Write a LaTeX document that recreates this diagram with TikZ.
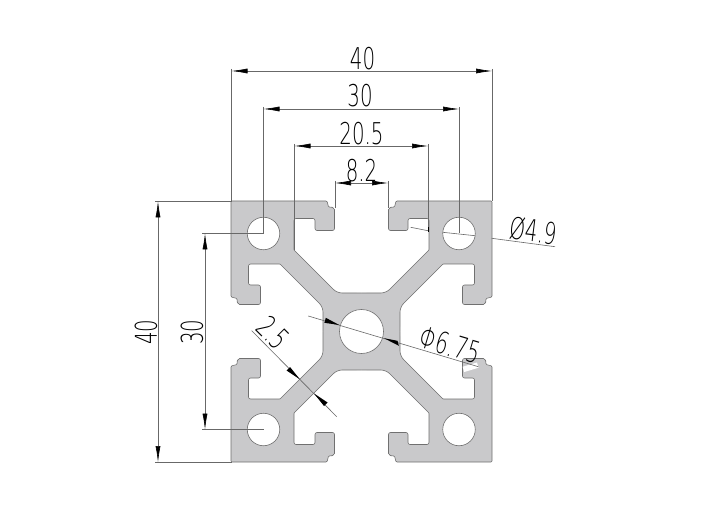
\documentclass[tikz,border=0pt]{standalone}
\usepackage{fontspec}
\newfontfamily\dimfont{DejaVu Sans ExtraLight}
\usetikzlibrary{arrows.meta}
\definecolor{alu}{HTML}{C9C9CB}
\definecolor{edge}{HTML}{707070}
\definecolor{leader}{HTML}{686868}
\def\QuadOutline{[rounded corners=5pt] (0,-38.5) -- (-24.5,-38.5) [rounded corners=0.5pt] -- (-67.5,-81.5) [rounded corners=2pt] -- (-67.5,-113) -- (-46.5,-113) -- (-46.5,-101) -- (-27,-101) -- (-27,-124) [rounded corners=1pt] -- (-33,-124.5) -- (-34.5,-130.5) -- (-130.5,-130.5) -- (-130.5,-34.5) -- (-124.5,-33) [rounded corners=2pt] -- (-124,-27) -- (-101,-27) -- (-101,-46.5) -- (-113,-46.5) -- (-113,-67.5) [rounded corners=0.5pt] -- (-81.5,-67.5) [rounded corners=5pt] -- (-38.5,-24.5) -- (-38.5,0)}
\tikzset{
  dimline/.style={draw=leader,line width=0.6pt,{Latex[length=16pt,width=5pt,black]}-{Latex[length=16pt,width=5pt,black]}},
  extline/.style={draw=leader,line width=0.6pt},
  solidhead/.style={fill=black,draw=none},
  holeshape/.style={draw=edge,fill=white,line width=0.6pt},
  dimtext/.style={font=\dimfont\fontsize{30}{30}\selectfont,text=black,inner sep=0pt,xscale=0.66}
}
\begin{document}
\begin{tikzpicture}[x=1pt,y=-1pt]
\useasboundingbox (0,0) rectangle (714,510);
\fill[white] (0,0) rectangle (714,510);
% profile
\foreach \sx/\sy in {1/1,-1/1,1/-1,-1/-1}{
  \begin{scope}[shift={(361.5,331.5)},xscale=\sx,yscale=\sy]
    \fill[alu] \QuadOutline -- (0,0) -- cycle;
  \end{scope}
}
\fill[alu] (323,293) rectangle (400,370);
\foreach \sx/\sy in {1/1,-1/1,1/-1,-1/-1}{
  \begin{scope}[shift={(361.5,331.5)},xscale=\sx,yscale=\sy]
    \draw[edge,line width=0.6pt] \QuadOutline;
  \end{scope}
}
\node[circle,holeshape,minimum size=44pt,inner sep=0pt] (core) at (361.5,331.5) {};
\node[circle,holeshape,minimum size=32.5pt,inner sep=0pt] (tl) at (263.5,233.5) {};
\node[circle,holeshape,minimum size=32.5pt,inner sep=0pt] (tr) at (459,233.5) {};
\node[circle,holeshape,minimum size=32.5pt,inner sep=0pt] (bl) at (263.5,429.5) {};
\node[circle,holeshape,minimum size=32.5pt,inner sep=0pt] (br) at (459,429.5) {};
% white patch
\fill[white,rotate around={16.6:(470.5,367)}] (463,364.5) rectangle (478,370);
% top dimensions
\coordinate (a1) at (231.5,71); \coordinate (a2) at (492,71);
\coordinate (a1e) at (231.5,201); \coordinate (a2e) at (492,201);
\draw[extline] (231.5,69) -- (a1e); \draw[extline] (492,69) -- (a2e);
\draw[dimline] (a1) -- (a2);
\node[dimtext] (t40) at (362.5,58.5) {40};
\coordinate (b1) at (263.5,109); \coordinate (b2) at (459,109);
\draw[extline] (263.5,107) -- (tl.center); \draw[extline] (459,107) -- (tr.center);
\draw[dimline] (b1) -- (b2);
\node[dimtext] (t30) at (360,96) {30};
\coordinate (c1) at (294.5,146); \coordinate (c2) at (428,146);
\draw[extline] (294.5,144) -- (294.5,250); \draw[extline] (428,144) -- (428,232);
\draw[dimline] (c1) -- (c2);
\node[dimtext] (t205) at (361.5,133.5) {20.5};
\coordinate (d1) at (335,183); \coordinate (d2) at (388,183);
\draw[extline] (335,181) -- (335,208); \draw[extline] (388,181) -- (388,208);
\draw[dimline] (d1) -- (d2);
\node[dimtext] (t82) at (361.5,171) {8.2};
% left dimensions
\coordinate (e1) at (158,201.5); \coordinate (e2) at (158,462);
\draw[extline] (155,201.5) -- (231.5,201.5); \draw[extline] (155,462) -- (231.5,462);
\draw[dimline] (e1) -- (e2);
\node[rotate=90,dimtext] (l40) at (146,332) {40};
\coordinate (f1) at (205,233.5); \coordinate (f2) at (205,429.5);
\draw[extline] (202,233.5) -- (tl.center); \draw[extline] (202,429.5) -- (bl.center);
\draw[dimline] (f1) -- (f2);
\node[rotate=90,dimtext] (l30) at (192,332) {30};
% diameter 4.9
\coordinate (g1) at (410.7,227.3); \coordinate (g2) at (428,230.7);
\draw[extline] (g1) -- (g2);
\draw[extline] (442.7,232.3) -- (475,235.7);
\coordinate (g3) at (491.7,238.3); \coordinate (g4) at (555,246.7);
\draw[extline] (g3) -- (g4);
\fill[black] (428,227.5) rectangle (428.8,232.5);
\node[rotate=-7,dimtext] (t49) at (533,231) {Ø4.9};
% diameter 6.75
\coordinate (h1) at (308.3,316); \coordinate (h2) at (478.3,366.7);
\draw[extline] (h1) -- (h2);
\fill[solidhead] (339.3,325) -- (325.8,317.8) -- (324.4,322.8) -- cycle;
\fill[solidhead] (384,338.2) -- (397.5,340.8) -- (398.9,345.8) -- cycle;
\node[rotate=-16.6,dimtext] (t675) at (450,345) {Φ6.75};
% wall 2.5
\coordinate (i1) at (251.7,330.7); \coordinate (i2) at (336.7,416.7);
\draw[extline] (i1) -- (i2);
\fill[solidhead] (300,379.5) -- (286.5,370.5) -- (290,367) -- cycle;
\fill[solidhead] (314,393.5) -- (327.5,402.5) -- (324,406) -- cycle;
\node[rotate=-45,dimtext] (t25) at (273,333) {2.5};
\end{tikzpicture}
\end{document}
